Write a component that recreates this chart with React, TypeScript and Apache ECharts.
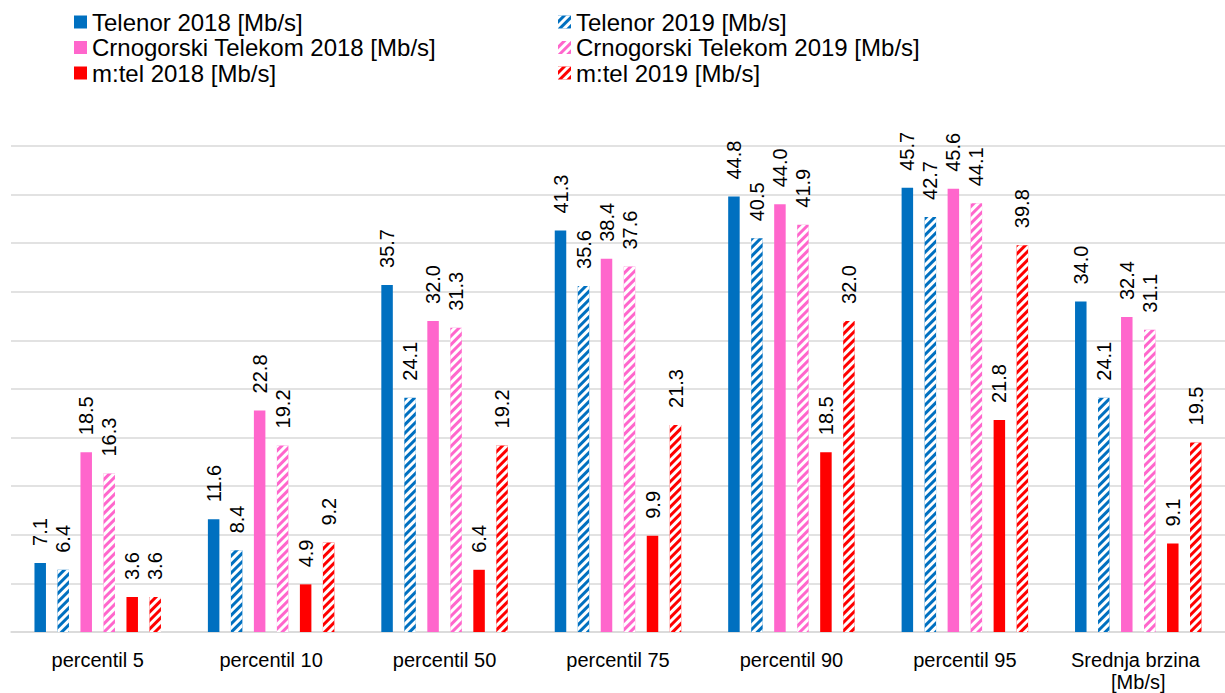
import React, { useEffect, useRef } from "react";
import * as echarts from "echarts";

const categories = [
  "percentil 5",
  "percentil 10",
  "percentil 50",
  "percentil 75",
  "percentil 90",
  "percentil 95",
  "Srednja brzina [Mb/s]",
];

const telenor2018 = [7.1, 11.6, 35.7, 41.3, 44.8, 45.7, 34.0];
const telenor2019 = [6.4, 8.4, 24.1, 35.6, 40.5, 42.7, 24.1];
const ct2018 = [18.5, 22.8, 32.0, 38.4, 44.0, 45.6, 32.4];
const ct2019 = [16.3, 19.2, 31.3, 37.6, 41.9, 44.1, 31.1];
const mtel2018 = [3.6, 4.9, 6.4, 9.9, 18.5, 21.8, 9.1];
const mtel2019 = [3.6, 9.2, 19.2, 21.3, 32.0, 39.8, 19.5];

const seriesNames = [
  "Telenor 2018 [Mb/s]",
  "Telenor 2019 [Mb/s]",
  "Crnogorski Telekom 2018 [Mb/s]",
  "Crnogorski Telekom 2019 [Mb/s]",
  "m:tel 2018 [Mb/s]",
  "m:tel 2019 [Mb/s]",
];

const FONT = "'Liberation Sans', Arial, sans-serif";

export default function App() {
  const ref = useRef<HTMLDivElement>(null);

  useEffect(() => {
    if (!ref.current) return;
    const chart = echarts.init(ref.current, undefined, { renderer: "svg" });

    const blue = "#0070C0";
    const pink = "#FF66CC";
    const red = "#FF0000";

    const hatch = {
      symbol: "rect",
      symbolSize: 1,
      color: "#ffffff",
      dashArrayX: [1, 0],
      dashArrayY: [3, 3],
      rotation: -Math.PI / 4,
    };

    const mk = (name: string, data: number[], color: string, hatched: boolean) => ({
      name,
      type: "bar",
      data,
      barWidth: 11.5,
      barGap: "100%",
      itemStyle: hatched ? { color, decal: hatch } : { color },
      label: {
        show: true,
        position: "top",
        rotate: 90,
        align: "left",
        verticalAlign: "middle",
        distance: 17,
        fontSize: 20,
        fontFamily: FONT,
        color: "#000",
        formatter: (p: any) => Number(p.value).toFixed(1),
      },
    });

    const legendCommon = {
      orient: "vertical",
      top: 10,
      padding: 0,
      icon: "rect",
      itemWidth: 13,
      itemHeight: 13,
      itemGap: 1.5,
      itemStyle: { borderWidth: 0 },
      textStyle: { fontSize: 24, lineHeight: 24, fontFamily: FONT, color: "#000" },
    };

    chart.setOption({
      animation: false,
      backgroundColor: "#fff",
      textStyle: { fontFamily: FONT },
      legend: [
        { ...legendCommon, left: 74, data: [seriesNames[0], seriesNames[2], seriesNames[4]] },
        { ...legendCommon, left: 558, data: [seriesNames[1], seriesNames[3], seriesNames[5]] },
      ],
      grid: { left: 11, right: -6, top: 146, bottom: 61, containLabel: false },
      xAxis: {
        type: "category",
        data: categories,
        axisTick: { show: false },
        axisLine: { lineStyle: { color: "#d9d9d9", width: 1.5 } },
        axisLabel: {
          fontSize: 20,
          fontFamily: FONT,
          color: "#000",
          margin: 17,
          width: 165,
          overflow: "break",
          lineHeight: 22,
          interval: 0,
        },
      },
      yAxis: {
        type: "value",
        min: 0,
        max: 50,
        interval: 5,
        axisLabel: { show: false },
        axisLine: { show: false },
        axisTick: { show: false },
        splitLine: { lineStyle: { color: "#d9d9d9", width: 1.5 } },
      },
      series: [
        mk(seriesNames[0], telenor2018, blue, false),
        mk(seriesNames[1], telenor2019, blue, true),
        mk(seriesNames[2], ct2018, pink, false),
        mk(seriesNames[3], ct2019, pink, true),
        mk(seriesNames[4], mtel2018, red, false),
        mk(seriesNames[5], mtel2019, red, true),
      ],
    });

    return () => chart.dispose();
  }, []);

  return (
    <div
      ref={ref}
      style={{ position: "absolute", left: 0, top: 0, width: 1225, height: 693 }}
    />
  );
}
